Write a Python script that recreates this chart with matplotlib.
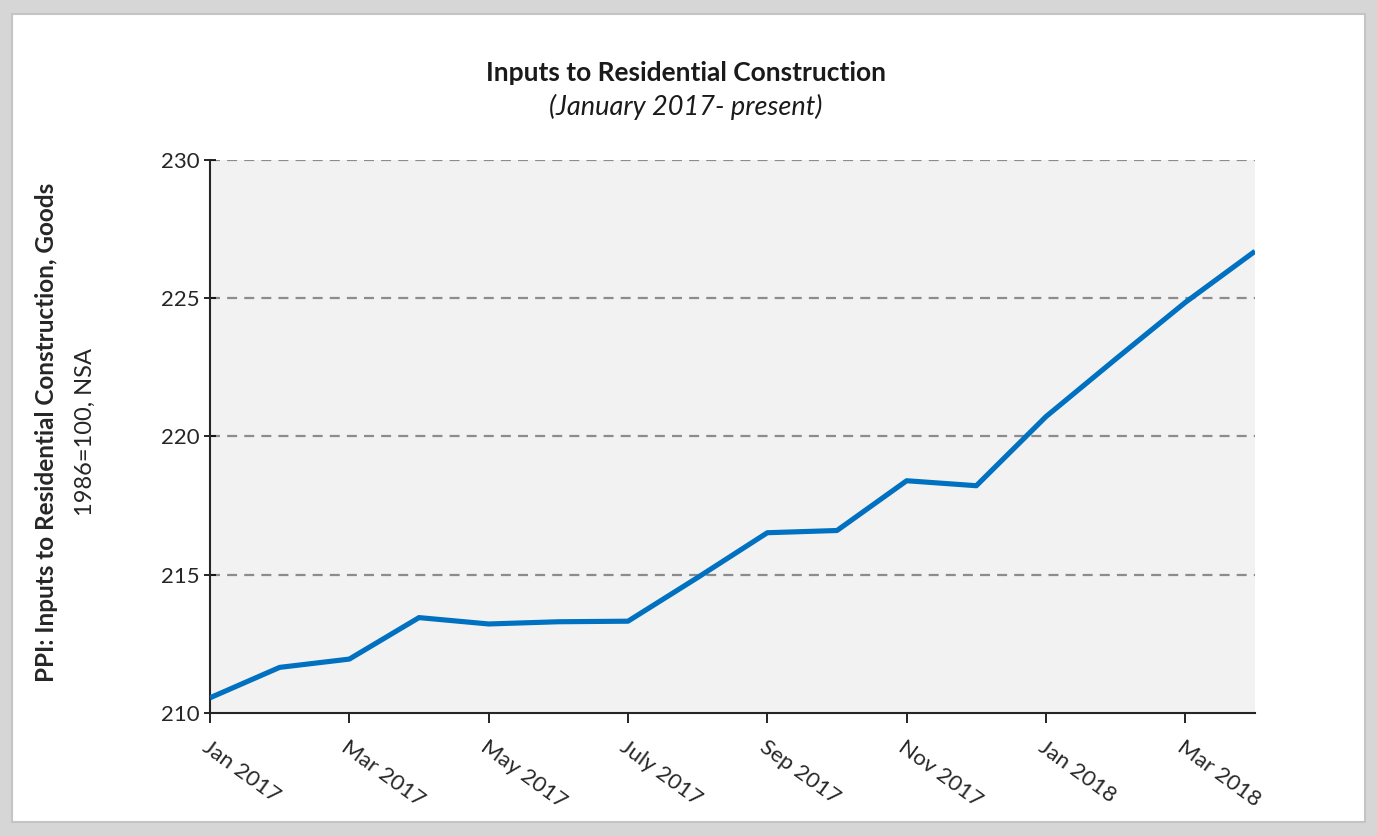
import matplotlib.pyplot as plt
from matplotlib.patches import Rectangle

plt.rcParams['font.family'] = ['Lato', 'DejaVu Sans']

months = ['Jan 2017', 'Feb 2017', 'Mar 2017', 'Apr 2017', 'May 2017', 'Jun 2017',
          'July 2017', 'Aug 2017', 'Sep 2017', 'Oct 2017', 'Nov 2017', 'Dec 2017',
          'Jan 2018', 'Feb 2018', 'Mar 2018', 'Apr 2018']
ppi = [210.55, 211.65, 211.95, 213.45, 213.22, 213.3, 213.32, 214.9, 216.52,
       216.6, 218.4, 218.22, 220.72, 222.8, 224.85, 226.7]

tick_idx = list(range(0, 15, 2))
tick_labels = [months[i] for i in tick_idx]

fig = plt.figure(figsize=(13.77, 8.36), dpi=100, facecolor='#D6D6D6')
fig.patches.append(Rectangle((12 / 1377, 14 / 836), 1353 / 1377, 808 / 836,
                             transform=fig.transFigure, facecolor='white',
                             edgecolor='#C4C4C4', linewidth=1.5, zorder=-10))

ax = fig.add_axes([210 / 1377, 1 - 713 / 836, 1045 / 1377, 553 / 836])
ax.set_facecolor('#F2F2F2')

x = list(range(len(ppi)))
ax.plot(x, ppi, color='#0070C0', linewidth=3.7, solid_capstyle='butt', zorder=3)

ax.set_xlim(0, 15)
ax.set_ylim(210, 230)
ax.set_yticks([210, 215, 220, 225, 230])
for v in [215, 220, 225, 230]:
    ax.axhline(v, color='#8C8C8C', linewidth=1.6, linestyle=(0, (4.5, 3.2)), zorder=1)

ax.set_xticks(tick_idx)
ax.set_xticklabels(tick_labels, rotation=-36, ha='left', va='top',
                   rotation_mode='anchor', fontsize=16, color='#262626')
ax.tick_params(axis='x', direction='out', length=7, width=1.2, pad=10)
ax.tick_params(axis='y', direction='inout', length=9, width=1.2, labelsize=16,
               labelcolor='#262626', pad=3)

for s in ['top', 'right']:
    ax.spines[s].set_visible(False)
for s in ['left', 'bottom']:
    ax.spines[s].set_linewidth(1.5)
    ax.spines[s].set_color('#262626')

fig.text(0.498, 1 - 73 / 836, 'Inputs to Residential Construction', ha='center',
         va='center', fontsize=19, fontweight='bold', color='#1a1a1a')
fig.text(0.498, 1 - 107 / 836, '(January 2017- present)', ha='center',
         va='center', fontsize=19.5, style='italic', color='#1a1a1a')

fig.text(47 / 1377, 1 - 432 / 836, 'PPI: Inputs to Residential Construction, Goods',
         rotation=90, ha='center', va='center', fontsize=17.5, fontweight='bold',
         color='#262626')
fig.text(85 / 1377, 1 - 432 / 836, '1986=100, NSA', rotation=90, ha='center',
         va='center', fontsize=17, color='#262626')

fig.savefig('out.png', dpi=100, facecolor=fig.get_facecolor())
